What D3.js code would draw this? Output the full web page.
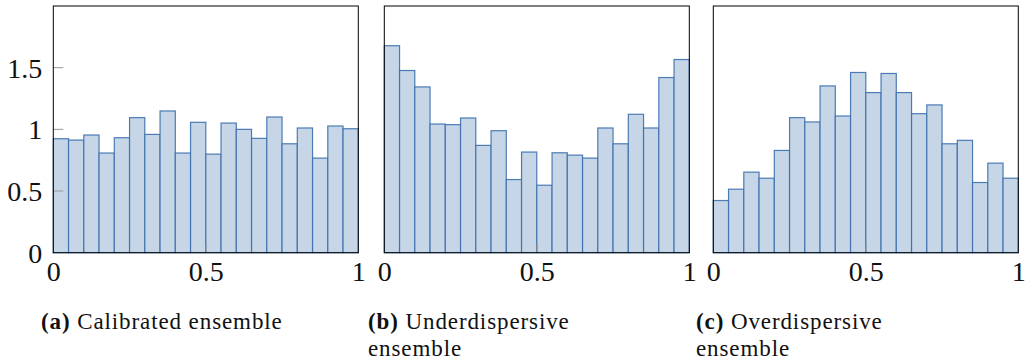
<!DOCTYPE html>
<html>
<head>
<meta charset="utf-8">
<script src="https://cdn.jsdelivr.net/npm/d3@7"></script>
<style>
  body { margin: 0; background: #fff; }
  svg { display: block; }
</style>
</head>
<body>
<svg id="chart" width="1035" height="363"></svg>
<script>
// Rank histograms (20 bins, normalised densities)
const calibrated = [0.924, 0.913, 0.954, 0.808, 0.932, 1.095, 0.959, 1.149, 0.808, 1.057,
                    0.799, 1.051, 1.0, 0.927, 1.100, 0.883, 1.011, 0.767, 1.027, 1.005];
const underdispersive = [1.678, 1.477, 1.344, 1.043, 1.038, 1.092, 0.870, 0.989, 0.593, 0.816,
                         0.547, 0.810, 0.791, 0.767, 1.011, 0.883, 1.122, 1.011, 1.420, 1.566];
const overdispersive = [0.423, 0.515, 0.653, 0.604, 0.829, 1.095, 1.060, 1.352, 1.108, 1.461,
                        1.298, 1.453, 1.298, 1.127, 1.198, 0.883, 0.911, 0.569, 0.726, 0.604];
const panelTags = ["(a)", "(b)", "(c)"];
const captionLines = [["Calibrated ensemble"], ["Underdispersive", "ensemble"], ["Overdispersive", "ensemble"]];
const xTicks = [0, 0.5, 1];
const yTicks = [0, 0.5, 1, 1.5];

const panels = [calibrated, underdispersive, overdispersive];
const svg = d3.select("#chart");

const tickFont = "'Liberation Serif', serif";
const capFont = "'Liberation Serif', serif";

const plotW = 305, plotTop = 6, plotBottom = 252.7;
const lefts = [53.3, 384.3, 713.3];
const captionX = [41, 368, 696];

const y = d3.scaleLinear().domain([0, 2]).range([plotBottom, plotTop]);

panels.forEach((vals, p) => {
  const x = d3.scaleLinear().domain([0, 1]).range([lefts[p], lefts[p] + plotW]);
  const n = vals.length;
  const g = svg.append("g");

  // bars
  g.selectAll("rect.bar").data(vals).join("rect")
    .attr("class", "bar")
    .attr("x", (d, i) => x(i / n))
    .attr("width", (d, i) => x((i + 1) / n) - x(i / n))
    .attr("y", d => y(d))
    .attr("height", d => y(0) - y(d))
    .attr("fill", "#c6d6e7")
    .attr("stroke", "#3b6fae")
    .attr("stroke-width", 1.2)
    .attr("stroke-opacity", 0.9);

  // inner tick marks
  if (p === 0) {
    g.selectAll("line.yt").data(yTicks.filter(t => t > 0)).join("line")
      .attr("class", "yt")
      .attr("x1", x(0)).attr("x2", x(0) + 10)
      .attr("y1", d => y(d)).attr("y2", d => y(d))
      .attr("stroke", "#999").attr("stroke-width", 1);
  }
  g.append("line")
    .attr("x1", x(0.5)).attr("x2", x(0.5))
    .attr("y1", plotBottom).attr("y2", plotBottom - 10)
    .attr("stroke", "#888").attr("stroke-width", 1);

  // frame
  g.append("rect")
    .attr("x", x(0)).attr("y", plotTop)
    .attr("width", plotW).attr("height", plotBottom - plotTop)
    .attr("fill", "none").attr("stroke", "#000").attr("stroke-width", 1);

  // x axis labels
  const xAxis = d3.axisBottom(x).tickValues(xTicks).tickSize(0).tickPadding(0)
    .tickFormat(d => d3.format("")(d));
  const xa = g.append("g").attr("transform", `translate(0,${plotBottom})`).call(xAxis);
  xa.select(".domain").remove();
  xa.selectAll("text")
    .attr("dy", null).attr("y", 28.5)
    .style("font-family", tickFont).style("font-size", "28px").style("fill", "#111");

  if (p === 0) {
    const yAxis = d3.axisLeft(y).tickValues(yTicks).tickSize(0).tickPadding(11)
      .tickFormat(d => d3.format("")(d));
    const ya = g.append("g").attr("transform", `translate(${x(0)},0)`).call(yAxis);
    ya.select(".domain").remove();
    ya.selectAll("text")
      .attr("dy", "0.34em")
      .style("font-family", tickFont).style("font-size", "28px").style("fill", "#111");
  }

  // caption
  const capStyle = sel => sel.style("font-family", capFont).style("font-size", "23px")
    .style("letter-spacing", "0.9px").style("fill", "#111");
  const cap = svg.append("text").attr("x", captionX[p]).attr("y", 329).call(capStyle);
  cap.append("tspan").style("font-weight", "bold").text(panelTags[p] + " ");
  cap.append("tspan").text(captionLines[p][0]);
  if (captionLines[p].length > 1) {
    svg.append("text").attr("x", captionX[p]).attr("y", 356).call(capStyle)
      .text(captionLines[p][1]);
  }
});
</script>
</body>
</html>
